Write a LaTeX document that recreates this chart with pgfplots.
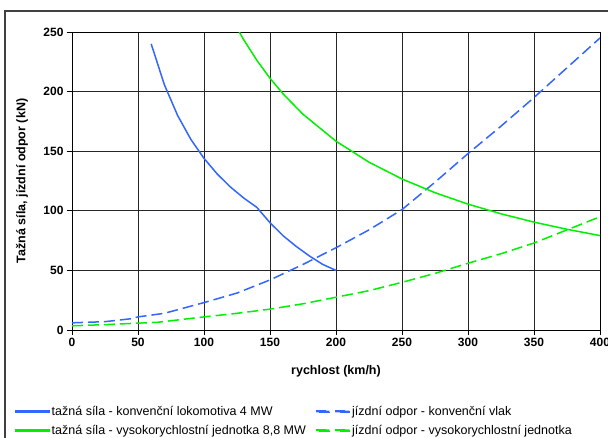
\documentclass[border=0pt]{standalone}
\usepackage{pgfplots}
\pgfplotsset{compat=1.18}
\usepackage{fontspec}
\setmainfont{Liberation Sans}
\definecolor{cblue}{RGB}{51,102,255}
\definecolor{cgreen}{RGB}{0,240,0}
\pgfplotsset{
  mylegline/.style={legend image code/.code={\fill[##1] (0pt,-0.8pt) rectangle (33pt,0.8pt);}},
  mydashleg/.style={legend image code/.code={\fill[##1] (0pt,-0.8pt) rectangle (13pt,0.8pt) (19pt,-0.8pt) rectangle (33pt,0.8pt);}}}
\begin{document}
\begin{tikzpicture}[x=1pt,y=1pt]
\useasboundingbox (0,0) rectangle (608,437);
\draw[black!75, line width=1.4pt] (5,-5) -- (5,426) -- (615,426);
\begin{axis}[at={(72pt,107pt)}, anchor=south west, scale only axis,
  width=528pt, height=298pt,
  xmin=0, xmax=400, ymin=0, ymax=250,
  xtick={0,50,...,400}, ytick={0,50,...,250},
  grid=major, major grid style={black!85, line width=0.8pt},
  axis line style={black, line width=0.9pt},
  tick align=outside, tick pos=left, major tick length=5pt,
  tick style={black, line width=0.8pt},
  ticklabel style={font=\fontsize{12}{14}\selectfont\bfseries},
  /pgf/number format/assume math mode=true,
  xlabel={\bfseries rychlost (km/h)},
  ylabel={\bfseries Tažná síla, jízdní odpor (kN)},
  label style={font=\fontsize{12.5}{14}\selectfont},
  xlabel style={at={(0.5,0)}, anchor=center, yshift=-41pt},
  ylabel style={at={(0,0.5)}, anchor=center, xshift=0pt, yshift=50pt},
  legend columns=2,
  legend cell align=left,
  legend style={at={(rel axis cs:-0.1136,-0.2416)}, anchor=north west, draw=none, fill=none,
    font=\fontsize{12.5}{14}\selectfont, row sep=4pt,
    /tikz/every even column/.append style={column sep=0pt}},
]
\addplot[cblue, line width=1.5pt, mylegline] coordinates {
(60,240) (70,205.7) (80,180) (90,160) (100,144) (110,130.9) (120,120) (130,110.8) (140,102.9)
(150,90) (160,79) (170,70) (180,62) (190,55) (200,50)};
\addlegendentry{\makebox[262pt][l]{tažná síla - konvenční lokomotiva 4 MW}}
\addplot[cblue, line width=1.5pt, dash pattern=on 11pt off 5pt, mydashleg] coordinates {
(0,6) (25,7) (45,9.5) (50,11) (70,14) (100,23) (125,31) (150,42) (175,55) (200,69) (225,84)
(250,101) (275,124) (300,148) (325,171) (350,195) (375,220) (400,245)};
\addlegendentry{jízdní odpor - konvenční vlak}
\addplot[cgreen, line width=1.5pt, mylegline] coordinates {
(126.7,250) (130,243.7) (140,226.3) (150,211.2) (160,198) (175,181) (200,158.4) (225,140.8)
(250,126.7) (275,115.2) (300,105.6) (325,97.5) (350,90.5) (375,84.5) (400,79.2)};
\addlegendentry{tažná síla - vysokorychlostní jednotka 8,8 MW}
\addplot[cgreen, line width=1.5pt, dash pattern=on 11pt off 5pt, mydashleg] coordinates {
(0,3.5) (25,4.5) (45,5.5) (65,6.5) (100,11) (125,14) (150,17.5) (175,22) (200,27.5) (225,33)
(250,40) (275,47.5) (300,56) (325,64) (350,73) (375,84) (400,95)};
\addlegendentry{jízdní odpor - vysokorychlostní jednotka}
\end{axis}
\end{tikzpicture}
\end{document}
